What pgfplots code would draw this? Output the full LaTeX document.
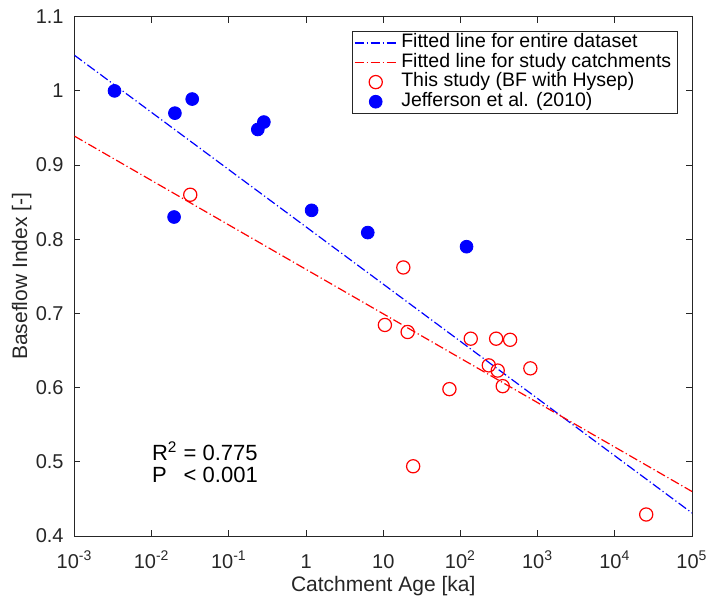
\documentclass[border=0pt]{standalone}
\usepackage{fontspec}
\setmainfont{Liberation Sans}
\usepackage{pgfplots}
\pgfplotsset{compat=1.18}
\definecolor{axgray}{RGB}{38,38,38}
\definecolor{mblue}{RGB}{0,0,255}
\definecolor{mred}{RGB}{255,0,0}
\pgfplotsset{
  linelegend/.style={legend image code/.code={\draw[##1] (0pt,0pt) -- (21pt,0pt);}},
  marklegend/.style={legend image code/.code={\draw[##1] plot coordinates {(10.5pt,0pt)};}},
  dashdot/.style={dash pattern=on 4.6pt off 1.4pt on 0.6pt off 1.4pt},
}

\begin{document}
\begin{tikzpicture}
\begin{axis}[
  name=ax,
  scale only axis,
  width=308.75pt, height=259.65pt,
  xmode=log, log basis x=10,
  xmin=1e-3, xmax=1e5,
  ymin=0.4, ymax=1.1,
  xtick={1e-3,1e-2,1e-1,1,10,100,1000,1e4,1e5},
  xticklabels={10\textsuperscript{-3},10\textsuperscript{-2},10\textsuperscript{-1},1,10,10\textsuperscript{2},10\textsuperscript{3},10\textsuperscript{4},10\textsuperscript{5}},
  xminorticks=false,
  ytick={0.4,0.5,0.6,0.7,0.8,0.9,1,1.1},
  yticklabels={0.4,0.5,0.6,0.7,0.8,0.9,1,1.1},
  tick align=inside,
  major tick length=3pt,
  axis line style={axgray, line width=0.5pt},
  every tick/.style={axgray, line width=0.5pt},
  tick label style={font=\fontsize{10}{12}\selectfont, text=axgray},
  xticklabel style={anchor=base, inner sep=0pt, yshift=-16pt},
  yticklabel style={anchor=east, inner sep=0pt, xshift=-5.25pt},
  xlabel={Catchment Age [ka]},
  ylabel={Baseflow Index [-]},
  label style={font=\fontsize{10.5}{12}\selectfont, text=axgray},
  xlabel style={at={(axis description cs:0.5,-0.1059)}, anchor=base},
  ylabel style={at={(axis description cs:-0.0855,0.5)}, anchor=center},
  legend style={at={(1,1)}, anchor=north east, xshift=-7.15pt, yshift=-7.15pt,
    draw=axgray, line width=0.5pt, inner xsep=1pt, inner ysep=0.8pt,
    font=\fontsize{9.75}{9.75}\selectfont, row sep=0pt,
    nodes={inner xsep=2pt, inner ysep=0.3pt, text height=7pt, text depth=2.2pt}},
  legend cell align=left,
]
\addplot[mblue, line width=0.6pt, dashdot, linelegend]
  coordinates {(1e-3,1.048) (1e5,0.431)};
\addlegendentry{Fitted line for entire dataset}
\addplot[mred, line width=0.6pt, dashdot, linelegend]
  coordinates {(1e-3,0.939) (1e5,0.460)};
\addlegendentry{Fitted line for study catchments}
\addplot[only marks, mark=o, mark size=3.3pt, mark options={draw=mred, line width=0.6pt}, marklegend]
  coordinates {
  (0.0316,0.860) (18.2,0.762) (10.5,0.6845) (20.7,0.675) (136,0.666)
  (290,0.666) (440,0.6645) (233,0.630) (304,0.623) (805,0.626)
  (353,0.602) (72,0.598) (24.4,0.494) (25500,0.429)
};
\addlegendentry{This study (BF with Hysep)}
\addplot[only marks, mark=*, mark size=3.2pt, mark options={draw=mblue, fill=mblue, line width=0.4pt}, marklegend]
  coordinates {
  (0.0033,1.000) (0.0200,0.970) (0.0335,0.989) (0.237,0.948) (0.284,0.958)
  (0.0195,0.830) (1.18,0.839) (6.3,0.809) (120,0.790)
};
\addlegendentry{Jefferson et al. (2010)}
\node[anchor=base west, inner sep=0pt, font=\fontsize{11}{12}\selectfont, text=black]
  at (axis cs:0.01,0.502) {R\textsuperscript{2} = 0.775};
\node[anchor=base west, inner sep=0pt, font=\fontsize{11}{12}\selectfont, text=black]
  at (axis cs:0.01,0.4725) {P\hspace*{8.5pt}< 0.001};
\end{axis}
\pgfresetboundingbox
\path[use as bounding box] ([shift={(-37.25pt,-29.5pt)}]ax.south west) rectangle ([shift={(7.5pt,8.35pt)}]ax.north east);
\end{tikzpicture}
\end{document}
